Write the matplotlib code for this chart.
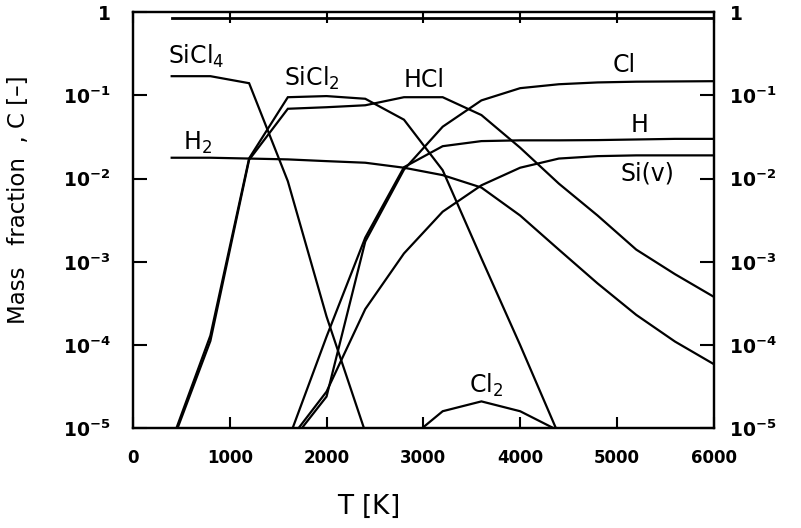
import matplotlib
matplotlib.use("Agg")
import matplotlib.pyplot as plt
from matplotlib.ticker import FixedLocator, NullLocator

# ---------------- data ----------------
T_sicl4 = [400, 800, 1200, 1600, 2000, 2400]
C_sicl4 = [0.17, 0.17, 0.14, 9.3e-3, 2.2e-4, 9e-6]

T_sicl2 = [400, 800, 1200, 1600, 2000, 2400, 2800, 3200, 3600, 4000, 4400]
C_sicl2 = [7e-6, 1.3e-4, 0.0175, 0.095, 0.098, 0.091, 0.051, 0.0126, 1.1e-3, 1.0e-4, 8.3e-6]

T_hcl = [400, 800, 1200, 1600, 2000, 2400, 2800, 3200, 3600, 4000, 4400, 4800, 5200, 5600, 6000]
C_hcl = [6.5e-6, 1.12e-4, 0.0168, 0.069, 0.072, 0.076, 0.095, 0.095, 0.058, 0.0235,
         8.7e-3, 3.6e-3, 1.4e-3, 7.1e-4, 3.8e-4]

T_h2 = [400, 800, 1200, 1600, 2000, 2400, 2800, 3200, 3600, 4000, 4400, 4800, 5200, 5600, 6000]
C_h2 = [0.0178, 0.0178, 0.0174, 0.017, 0.0162, 0.0155, 0.0135, 0.011, 7.8e-3, 3.6e-3,
        1.4e-3, 5.5e-4, 2.3e-4, 1.1e-4, 5.9e-5]

T_cl = [1600, 2000, 2400, 2800, 3200, 3600, 4000, 4400, 4800, 5200, 5600, 6000]
C_cl = [6.1e-6, 2.4e-5, 1.75e-3, 0.0128, 0.042, 0.087, 0.122, 0.136, 0.143, 0.146, 0.147, 0.148]

T_h = [1600, 2000, 2400, 2800, 3200, 3600, 4000, 4400, 4800, 5200, 5600, 6000]
C_h = [7e-6, 1.26e-4, 1.95e-3, 0.0137, 0.0245, 0.0282, 0.0288, 0.0288, 0.029, 0.0295, 0.030, 0.030]

T_si = [1600, 2000, 2400, 2800, 3200, 3600, 4000, 4400, 4800, 5200, 5600, 6000]
C_si = [6.8e-6, 2.75e-5, 2.7e-4, 1.26e-3, 4.0e-3, 8.3e-3, 0.0135, 0.0174, 0.0186, 0.019, 0.019, 0.019]

T_cl2 = [2800, 3200, 3600, 4000, 4400]
C_cl2 = [6.6e-6, 1.6e-5, 2.1e-5, 1.6e-5, 9.3e-6]

T_top = [400, 6000]
C_top = [0.85, 0.85]

# label texts and anchor points (T, C)
species_labels = ['SiCl$_4$', 'SiCl$_2$', 'HCl', 'H$_2$', 'Cl', 'H', 'Si(v)', 'Cl$_2$']
label_T = [362, 1560, 2800, 520, 4960, 5140, 5040, 3470]
label_C = [0.237, 0.129, 0.126, 0.022, 0.19, 0.036, 0.0096, 2.7e-5]

x_ticks = [0, 1000, 2000, 3000, 4000, 5000, 6000]
x_ticklabels = ['0', '1000', '2000', '3000', '4000', '5000', '6000']
y_ticks = [1e-5, 1e-4, 1e-3, 1e-2, 1e-1, 1]
y_ticklabels = [r'$\mathbf{10^{-5}}$', r'$\mathbf{10^{-4}}$', r'$\mathbf{10^{-3}}$',
                r'$\mathbf{10^{-2}}$', r'$\mathbf{10^{-1}}$', r'$\mathbf{1}$']

# ---------------- figure ----------------
fig = plt.figure(figsize=(8.01, 5.28), dpi=100)
ax = fig.add_axes([0.166, 0.189, 0.725, 0.788])
ax.set_yscale('log')

lw = 1.6
for T, C in [(T_sicl4, C_sicl4), (T_sicl2, C_sicl2), (T_hcl, C_hcl), (T_h2, C_h2),
             (T_cl, C_cl), (T_h, C_h), (T_si, C_si), (T_cl2, C_cl2)]:
    ax.plot(T, C, color='black', lw=lw, solid_joinstyle='miter')
ax.plot(T_top, C_top, color='black', lw=2.0)

for s, t, c in zip(species_labels, label_T, label_C):
    ax.text(t, c, s, fontsize=17, va='baseline', ha='left', color='black')

ax.set_xlim(0, 6000)
ax.set_ylim(1e-5, 1)

for sp in ax.spines.values():
    sp.set_linewidth(1.6)

ax.xaxis.set_major_locator(FixedLocator(x_ticks))
ax.set_xticklabels(x_ticklabels, fontsize=12, fontweight='bold')
ax.yaxis.set_major_locator(FixedLocator(y_ticks))
ax.yaxis.set_minor_locator(NullLocator())
ax.set_yticklabels(y_ticklabels, fontsize=13.5)
ax.tick_params(axis='x', direction='in', length=8, width=1.5, top=True, pad=15)
ax.tick_params(axis='y', direction='in', length=10, width=1.5, left=True, right=False, pad=16)

ax2 = ax.twinx()
ax2.set_yscale('log')
ax2.set_ylim(1e-5, 1)
ax2.yaxis.set_major_locator(FixedLocator(y_ticks))
ax2.yaxis.set_minor_locator(NullLocator())
ax2.set_yticklabels(y_ticklabels, fontsize=13.5)
ax2.tick_params(axis='y', direction='in', length=10, width=1.5, pad=11)
for sp in ax2.spines.values():
    sp.set_linewidth(1.6)

ax.set_ylabel('Mass   fraction  , C [\u2013]', fontsize=16.5)
ax.yaxis.set_label_coords(-0.178, 0.55)
ax.set_xlabel(r'T $\left[\mathrm{K}\right]$', fontsize=19)
ax.xaxis.set_label_coords(0.405, -0.155)

fig.savefig('out.png', dpi=100)
